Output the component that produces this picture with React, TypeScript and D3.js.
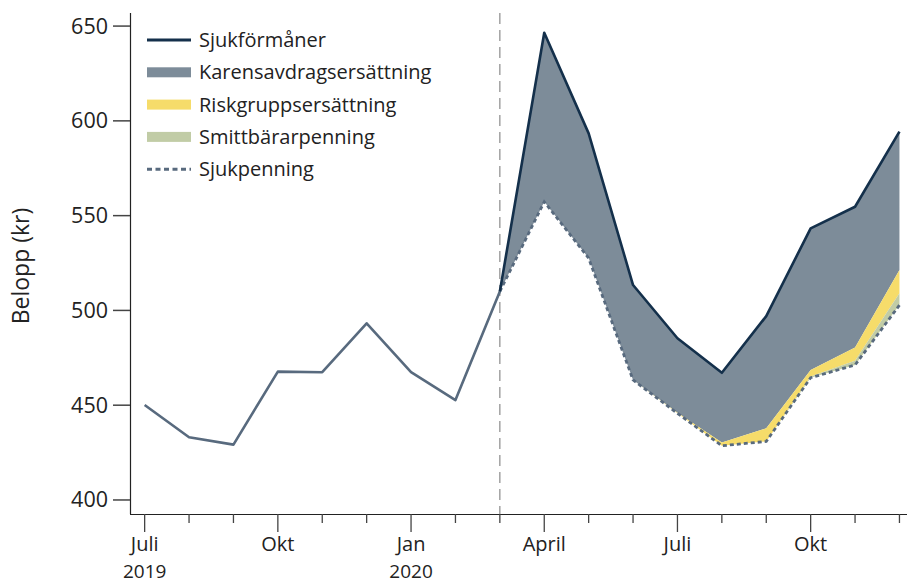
import React from "react";
import * as d3 from "d3";

// Months from Juli 2019 (index 0) to Dec 2020 (index 17)
const monthIndex = d3.range(18);
const tickLabels = ["Juli", "", "", "Okt", "", "", "Jan", "", "", "April", "", "", "Juli", "", "", "Okt", "", ""];
const yearLabels = ["2019", "", "", "", "", "", "2020", "", "", "", "", "", "", "", "", "", "", ""];
const yTicks = [400, 450, 500, 550, 600, 650];

// Sjukpenning, whole period
const sjukpenning = [450.1, 433.1, 429.2, 467.7, 467.4, 493.2, 467.4, 452.7, 510.0,
  557.3, 527.6, 463.3, 445.7, 428.6, 430.9, 464.5, 471.2, 502.8];
// From March 2020 (index 8) onward
const sjukformaner = [510.0, 646.5, 593.4, 513.4, 485.3, 467.1, 497.0, 543.3, 554.7, 594.3];
const smittbararpenning = [0, 0, 0, 0, 0, 0, 0, 0.6, 2.3, 6.2];
const riskgruppsersattning = [0, 0, 0, 0, 0.3, 1.7, 6.9, 3.5, 7.0, 12.3];
const startIndex = 8;

const legendItems = [
  { label: "Sjukförmåner", kind: "line" },
  { label: "Karensavdragsersättning", kind: "rect" },
  { label: "Riskgruppsersättning", kind: "rect" },
  { label: "Smittbärarpenning", kind: "rect" },
  { label: "Sjukpenning", kind: "dash" },
];

const C = {
  formaner: "#14304b",
  karens: "#7d8c99",
  risk: "#f6dc6a",
  smitt: "#c1cca6",
  sjukp: "#586a7e",
};

const W = 907;
const H = 584;
const FONT = "'Open Sans', sans-serif";

export default function App() {
  const x = d3.scaleLinear().domain([-0.33, 17.17]).range([130, 907]);
  const y = d3.scaleLinear().domain([392.6, 656.9]).range([514, 13]);

  const rows = sjukformaner.map((tot, i) => {
    const idx = startIndex + i;
    const base = sjukpenning[idx];
    const s1 = base + smittbararpenning[i];
    const s2 = s1 + riskgruppsersattning[i];
    return { idx, base, s1, s2, top: tot };
  });

  const area = (lo: (d: any) => number, hi: (d: any) => number) =>
    d3.area<any>().x((d) => x(d.idx)).y0((d) => y(lo(d))).y1((d) => y(hi(d)))(rows) || "";

  const line = d3.line<[number, number]>().x((d) => x(d[0])).y((d) => y(d[1]));
  const preLine = line(sjukpenning.slice(0, startIndex + 1).map((v, i) => [i, v] as [number, number])) || "";
  const postLine = line(sjukpenning.slice(startIndex).map((v, i) => [startIndex + i, v] as [number, number])) || "";
  const topLine = line(rows.map((d) => [d.idx, d.top] as [number, number])) || "";

  const legendColors = [C.formaner, C.karens, C.risk, C.smitt, C.sjukp];

  return (
    <svg width={W} height={H} style={{ position: "absolute", left: 0, top: 0, background: "#fff" }} fontFamily={FONT}>
      {/* areas */}
      <path d={area((d) => d.s2, (d) => d.top)} fill={C.karens} />
      <path d={area((d) => d.s1, (d) => d.s2)} fill={C.risk} />
      <path d={area((d) => d.base, (d) => d.s1)} fill={C.smitt} />

      {/* vertical dashed line at March 2020 */}
      <line x1={x(startIndex)} x2={x(startIndex)} y1={13} y2={514} stroke="#8a8a8a" strokeWidth={1.2} strokeDasharray="11,6" />

      {/* lines */}
      <path d={preLine} fill="none" stroke={C.sjukp} strokeWidth={2.6} strokeLinejoin="round" />
      <path d={postLine} fill="none" stroke={C.sjukp} strokeWidth={2.8} strokeDasharray="4,3" />
      <path d={topLine} fill="none" stroke={C.formaner} strokeWidth={2.6} strokeLinejoin="round" />

      {/* y axis */}
      <line x1={130.5} x2={130.5} y1={13} y2={514} stroke="#222" strokeWidth={1.2} />
      {yTicks.map((t) => (
        <g key={t}>
          <line x1={113} x2={130} y1={y(t)} y2={y(t)} stroke="#444" strokeWidth={1.5} />
          <text x={108} y={y(t)} dy="0.35em" textAnchor="end" fontSize={21.5} fill="#222">{t}</text>
        </g>
      ))}
      <text transform={`translate(29,${266}) rotate(-90)`} textAnchor="middle" fontSize={23} fill="#222">Belopp (kr)</text>

      {/* x axis */}
      <line x1={130} x2={907} y1={514.5} y2={514.5} stroke="#222" strokeWidth={1.2} />
      {monthIndex.map((i) => (
        <g key={i}>
          <line x1={x(i)} x2={x(i)} y1={514} y2={tickLabels[i] ? 532 : 523} stroke="#444" strokeWidth={1.3} />
          {tickLabels[i] && (
            <text x={x(i)} y={551} textAnchor="middle" fontSize={20} fill="#222">{tickLabels[i]}</text>
          )}
          {yearLabels[i] && (
            <text x={x(i)} y={578} textAnchor="middle" fontSize={19} fill="#222">{yearLabels[i]}</text>
          )}
        </g>
      ))}

      {/* legend */}
      {legendItems.map((it, i) => {
        const cy = 40 + i * 32.3;
        const col = legendColors[i];
        return (
          <g key={it.label}>
            {it.kind === "line" && <line x1={147} x2={191} y1={cy} y2={cy} stroke={col} strokeWidth={3} />}
            {it.kind === "rect" && <rect x={147} y={cy - 5} width={44} height={10} fill={col} />}
            {it.kind === "dash" && <line x1={147} x2={191} y1={cy} y2={cy} stroke={col} strokeWidth={3} strokeDasharray="5,3.5" />}
            <text x={199} y={cy} dy="0.35em" fontSize={20} fill="#222">{it.label}</text>
          </g>
        );
      })}
    </svg>
  );
}
